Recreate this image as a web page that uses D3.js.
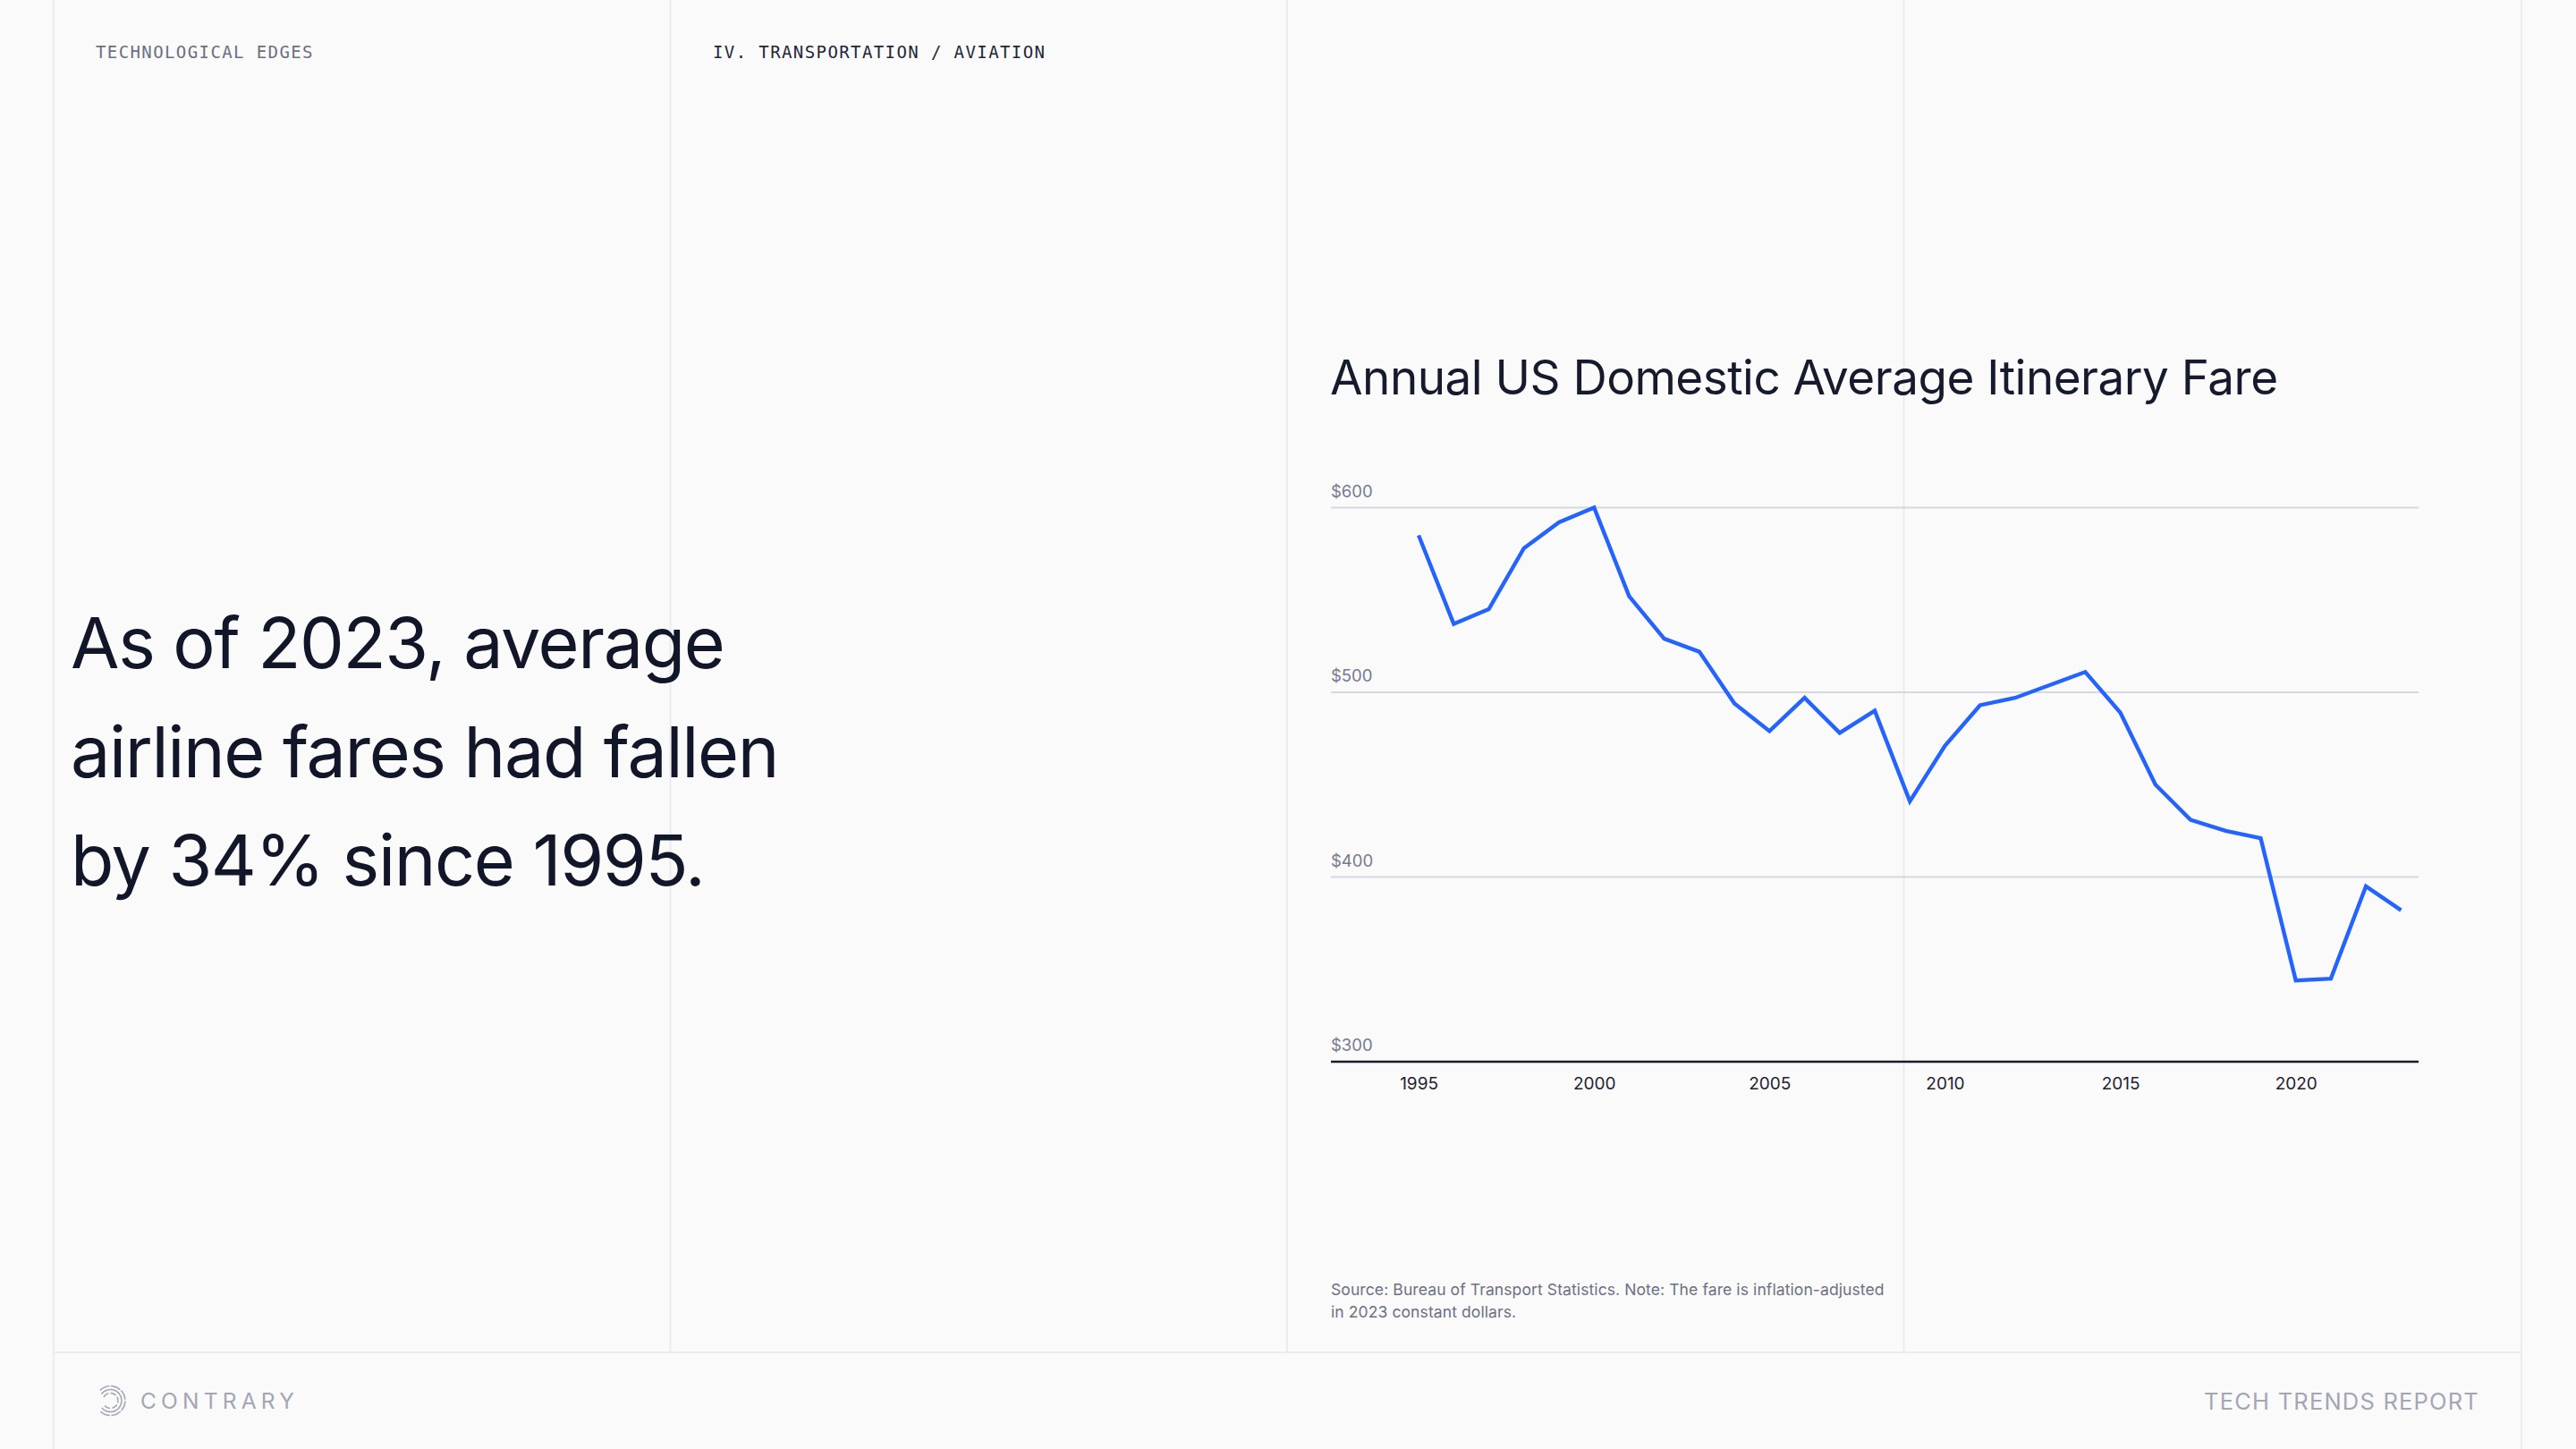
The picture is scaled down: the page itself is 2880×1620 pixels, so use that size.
<!DOCTYPE html>
<html><head><meta charset="utf-8">
<script src="https://cdn.jsdelivr.net/npm/d3@7"></script>
<style>
html,body{margin:0;padding:0;background:#fafafa;}
svg{display:block;}
</style>
</head><body>
<svg id="c" width="2880" height="1620"></svg>
<script>
// ---- data ----
const years = [1995,1996,1997,1998,1999,2000,2001,2002,2003,2004,2005,2006,2007,2008,2009,2010,2011,2012,2013,2014,2015,2016,2017,2018,2019,2020,2021,2022,2023];
const fares = [585,537,545,578,592,600,552,529,522,494,479,497,478,490,441,471,493,497,504,511,489,450,431,425,421,344,345,395,382];
const yTicks = [300,400,500,600];
const xTicks = [1995,2000,2005,2010,2015,2020];
const title = "Annual US Domestic Average Itinerary Fare";
const headline = ["As of 2023, average","airline fares had fallen","by 34% since 1995."];
const sourceLines = ["Source: Bureau of Transport Statistics. Note: The fare is inflation-adjusted","in 2023 constant dollars."];

const svg = d3.select("#c");
const W = 2880, H = 1620;
const sans = "Inter, 'Noto Sans', sans-serif";
const mono = "'DejaVu Sans Mono', 'Liberation Mono', monospace";

svg.append("rect").attr("width", W).attr("height", H).attr("fill", "#fafafa");

// ---- frame / columns ----
const colX = [60, 749.5, 1439, 2128.5, 2819];
const footerY = 1512;
const frame = svg.append("g").attr("stroke", "#ececef").attr("stroke-width", 2);
frame.selectAll("line.col").data(colX).join("line")
  .attr("x1", d => d).attr("x2", d => d)
  .attr("y1", 0).attr("y2", (d, i) => (i === 0 || i === colX.length - 1) ? H : footerY);
frame.append("line").attr("x1", colX[0]).attr("x2", colX[colX.length - 1]).attr("y1", footerY).attr("y2", footerY);

// ---- header ----
svg.append("text").attr("x", 107).attr("y", 65)
  .attr("font-family", mono).attr("font-size", 19).attr("letter-spacing", 1.4)
  .attr("fill", "#6b7082").text("TECHNOLOGICAL EDGES");
svg.append("text").attr("x", 797).attr("y", 65)
  .attr("font-family", mono).attr("font-size", 19).attr("letter-spacing", 1.4)
  .attr("fill", "#23263a").text("IV. TRANSPORTATION / AVIATION");

// ---- headline ----
svg.append("g").selectAll("text").data(headline).join("text")
  .attr("x", 79).attr("y", (d, i) => 747 + i * 121.7)
  .attr("font-family", sans).attr("font-size", 79).attr("font-weight", 400)
  .attr("letter-spacing", -1.35)
  .attr("fill", "#121629").text(d => d);

// ---- chart ----
const x = d3.scaleLinear().domain([1992.5, 2023.5]).range([1488, 2704]);
const y = d3.scaleLinear().domain([300, 600]).range([1187, 567.5]);

svg.append("text").attr("x", 1487).attr("y", 441)
  .attr("font-family", sans).attr("font-size", 53).attr("font-weight", 400)
  .attr("letter-spacing", -0.5)
  .attr("fill", "#151a2d").text(title);

const grid = svg.append("g");
grid.selectAll("line").data(yTicks.filter(d => d !== 300)).join("line")
  .attr("x1", x.range()[0]).attr("x2", x.range()[1])
  .attr("y1", d => y(d)).attr("y2", d => y(d))
  .attr("stroke", "#d5d8e0").attr("stroke-width", 2);
grid.selectAll("text").data(yTicks).join("text")
  .attr("x", 1488).attr("y", d => y(d) - 12)
  .attr("font-family", sans).attr("font-size", 18.5).attr("fill", "#767a8e")
  .text(d => "$" + d);

// x axis
const xAxis = svg.append("g").attr("transform", `translate(0,${y(300)})`)
  .call(d3.axisBottom(x).tickValues(xTicks).tickSize(0).tickFormat(d3.format("d")));
xAxis.select(".domain").remove();
xAxis.selectAll("text").attr("dy", null).attr("y", 31)
  .attr("font-family", sans).attr("font-size", 19).attr("fill", "#1f2233");
svg.append("line").attr("x1", x.range()[0]).attr("x2", x.range()[1])
  .attr("y1", y(300)).attr("y2", y(300))
  .attr("stroke", "#1b1e2e").attr("stroke-width", 2.5);

// line
const data = years.map((yr, i) => ({yr, v: fares[i]}));
svg.append("path").datum(data)
  .attr("fill", "none").attr("stroke", "#2563ff").attr("stroke-width", 4.4)
  .attr("stroke-linejoin", "miter").attr("stroke-linecap", "butt")
  .attr("d", d3.line().x(d => x(d.yr)).y(d => y(d.v)));

// source
svg.append("g").selectAll("text").data(sourceLines).join("text")
  .attr("x", 1488).attr("y", (d, i) => 1448 + i * 25)
  .attr("font-family", sans).attr("font-size", 17.5).attr("letter-spacing", 0.1)
  .attr("fill", "#6b7085").text(d => d);

// ---- footer ----
const logo = svg.append("g").attr("transform", "translate(123.5,1566)")
  .attr("fill", "none").attr("stroke", "#a7aab9").attr("stroke-width", 1.6);
const arc = d3.arc();
[16.5, 12.5, 8.5].forEach((r, i) => {
  logo.append("path")
    .attr("d", arc({innerRadius: r, outerRadius: r, startAngle: -Math.PI * 0.25 - i * 0.15, endAngle: Math.PI * 1.25 + i * 0.1}))
    .attr("stroke-dasharray", i === 0 ? "10 3" : (i === 1 ? "8 3" : "6 3"));
});
svg.append("text").attr("x", 157).attr("y", 1575)
  .attr("font-family", sans).attr("font-size", 24.5).attr("letter-spacing", 5.2)
  .attr("fill", "#a3a6b6").text("CONTRARY");
svg.append("text").attr("x", 2772).attr("y", 1576).attr("text-anchor", "end")
  .attr("font-family", sans).attr("font-size", 25.5).attr("letter-spacing", 1.2)
  .attr("fill", "#a3a6b6").text("TECH TRENDS REPORT");
</script>
</body></html>
